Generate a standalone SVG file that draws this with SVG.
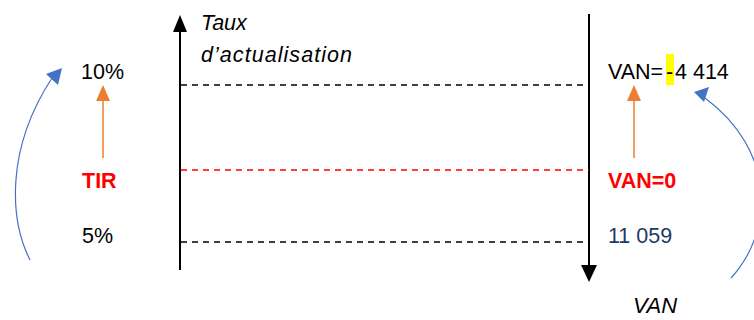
<svg xmlns="http://www.w3.org/2000/svg" width="754" height="320" viewBox="0 0 754 320">
<style>
text{font-family:"Liberation Sans","DejaVu Sans",sans-serif;font-size:21.5px}
.it{font-style:italic}
.b{font-weight:bold;fill:#ff0000}
.dash{stroke-width:1.3;stroke-dasharray:6,5;fill:none}
.ax{stroke:#000;stroke-width:2;fill:none}
.or{stroke:#ed7d31;stroke-width:1.5;fill:none}
.bl{stroke:#4472c4;stroke-width:1.2;fill:none}
</style>
<g id="connectors">
<line class="ax" x1="180" y1="270" x2="180" y2="30"/>
<path d="M173,32 L180,15 L187,32 Z" fill="#000"/>
<line class="ax" x1="589" y1="14" x2="589" y2="266"/>
<path d="M581,265 L589,282 L597,265 Z" fill="#000"/>
<line class="dash" stroke="#000" x1="181" y1="85" x2="589" y2="85"/>
<line class="dash" stroke="#ff0000" x1="181" y1="170" x2="589" y2="170"/>
<line class="dash" stroke="#000" x1="181" y1="242" x2="589" y2="242"/>
<line class="or" x1="103" y1="158" x2="103" y2="99"/>
<path d="M96,101 L103,85 L110,101 Z" fill="#ed7d31"/>
<line class="or" x1="634" y1="158" x2="634" y2="99"/>
<path d="M627,101 L634,85 L641,101 Z" fill="#ed7d31"/>
<path class="bl" d="M30,260 C10,220 5,150 52,78"/>
<path d="M46,74 L62,68 L58,85 Z" fill="#4472c4"/>
<path class="bl" d="M731,278 C775,230 775,150 705,98"/>
<path d="M694,92 L709,87 L704,102 Z" fill="#4472c4"/>
</g>
<g id="axis-label"><text class="it" x="201" y="30">Taux</text><text class="it" x="201" y="62" textLength="151" lengthAdjust="spacing">d’actualisation</text></g>
<g id="t10"><text x="81" y="79">10%</text></g>
<g id="tir"><text class="b" x="82" y="188">TIR</text></g>
<g id="t5"><text x="82" y="243">5%</text></g>
<g id="van-neg"><rect x="666" y="54" width="8" height="31" fill="#ffff00"/><text y="79"><tspan x="608">VAN=</tspan><tspan x="666">-</tspan><tspan x="675">4 414</tspan></text></g>
<g id="van0"><text class="b" x="608" y="188">VAN=0</text></g>
<g id="van-pos"><text x="608" y="243" fill="#1f3864">11 059</text></g>
<g id="van-label"><text class="it" x="633" y="313" style="font-size:22px">VAN</text></g>
</svg>
